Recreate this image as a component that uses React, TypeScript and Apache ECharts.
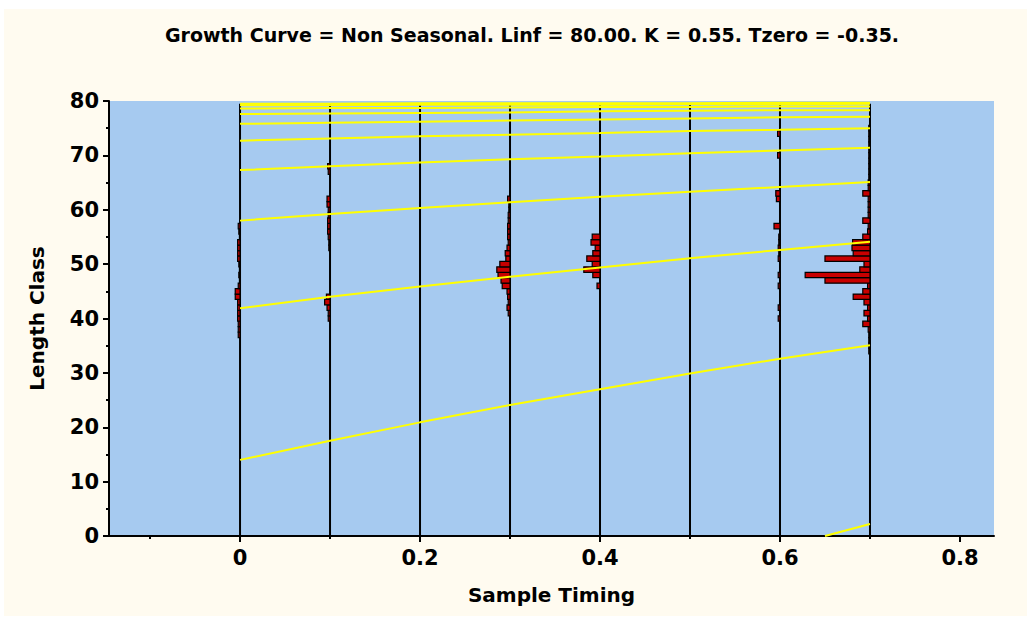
import React, { useEffect, useRef } from 'react';
import * as echarts from 'echarts';

const TITLE = 'Growth Curve = Non Seasonal. Linf = 80.00. K = 0.55. Tzero = -0.35.';
const X_NAME = 'Sample Timing';
const Y_NAME = 'Length Class';

const xMajorTicks = [0, 0.2, 0.4, 0.6, 0.8];
const xMinorTicks = [-0.1, 0.1, 0.3, 0.5, 0.7];
const sampleTimes = [0, 0.1, 0.2, 0.3, 0.4, 0.5, 0.6, 0.7];

// growth curves (length read at each sample time)
const curveTimes = [0, 0.1, 0.2, 0.3, 0.4, 0.5, 0.6, 0.7];
const cohortA = [14.0, 17.5, 20.9, 24.1, 27.0, 29.9, 32.6, 35.1];
const cohortB = [41.9, 44.0, 45.9, 47.7, 49.4, 51.1, 52.6, 54.1];
const cohortC = [58.0, 59.2, 60.3, 61.4, 62.4, 63.3, 64.2, 65.1];
const cohortD = [67.3, 68.0, 68.7, 69.3, 69.8, 70.4, 70.9, 71.4];
const cohortE = [72.7, 73.1, 73.5, 73.8, 74.1, 74.5, 74.7, 75.0];
const cohortF = [75.8, 76.0, 76.2, 76.4, 76.6, 76.8, 77.0, 77.1];
const cohortG = [77.6, 77.7, 77.8, 77.9, 78.1, 78.2, 78.3, 78.3];
const cohortH = [78.6, 78.7, 78.7, 78.8, 78.9, 78.9, 79.0, 79.0];
const cohortI = [79.2, 79.2, 79.3, 79.3, 79.3, 79.4, 79.4, 79.5];
const cohortJ = [79.5, 79.5, 79.6, 79.6, 79.6, 79.6, 79.7, 79.7];
const recruitTimes = [0.65, 0.675, 0.7];
const recruitLengths = [0, 1.1, 2.2];

// histograms per sample: [length class, frequency]
const hist00 = [[37, 0.3], [38, 0.3], [39, 0.3], [40, 0.4], [41, 0.4], [42, 0.4], [43, 0.4], [44, 0.8], [45, 0.8], [46, 0.3], [47, 0.1], [48, 0.2], [49, 0.1], [50, 0.2], [51, 0.4], [52, 0.4], [53, 0.4], [54, 0.4], [55, 0.1], [56, 0.2], [57, 0.3]];
const hist01 = [[40, 0.3], [41, 0.3], [42, 0.5], [43, 0.9], [44, 0.6], [53, 0.2], [54, 0.2], [55, 0.3], [56, 0.4], [57, 0.4], [58, 0.4], [59, 0.3], [60, 0.3], [61, 0.5], [62, 0.5], [67, 0.3], [68, 0.4]];
const hist02: number[][] = [];
const hist03 = [[41, 0.3], [42, 0.5], [43, 0.3], [44, 0.4], [45, 0.5], [46, 1.3], [47, 1.5], [48, 2.0], [49, 2.2], [50, 1.7], [51, 0.7], [52, 0.8], [53, 0.5], [54, 0.3], [55, 0.4], [56, 0.4], [57, 0.4], [58, 0.3], [59, 0.3], [60, 0.2], [61, 0.2], [62, 0.4]];
const hist04 = [[46, 0.5], [48, 1.2], [49, 2.7], [50, 1.3], [51, 2.2], [52, 1.2], [53, 0.8], [54, 1.5], [55, 1.3]];
const hist05: number[][] = [];
const hist06 = [[40, 0.3], [42, 0.3], [46, 0.3], [48, 0.3], [51, 0.3], [52, 0.2], [53, 0.3], [54, 0.2], [55, 0.2], [57, 1.0], [62, 0.6], [63, 0.7], [70, 0.4], [74, 0.4]];
const hist07 = [[34, 0.2], [35, 0.2], [36, 0.2], [37, 0.2], [38, 0.3], [39, 1.2], [40, 0.4], [41, 1.0], [42, 0.4], [43, 1.0], [44, 2.8], [45, 1.2], [46, 0.4], [47, 7.5], [48, 10.8], [49, 1.7], [50, 1.0], [51, 7.5], [52, 2.8], [53, 3.0], [54, 2.9], [55, 1.2], [56, 0.4], [57, 0.3], [58, 1.2], [59, 0.3], [60, 0.3], [61, 0.3], [62, 0.3], [63, 1.2], [64, 0.3], [65, 0.3], [66, 0.2], [67, 0.2], [68, 0.2], [69, 0.2], [70, 0.2], [71, 0.2], [72, 0.2], [73, 0.2], [74, 0.2], [75, 0.2]];

const histograms = [hist00, hist01, hist02, hist03, hist04, hist05, hist06, hist07];

const FREQ_UNIT = 0.00667; // x-axis units per frequency count
const SAMPLE_LINE_TOP = 79.5;

export default function App() {
  const ref = useRef<HTMLDivElement>(null);

  useEffect(() => {
    document.body.style.margin = '0';
    if (!ref.current) return;
    const chart = echarts.init(ref.current, undefined, { renderer: 'svg' });

    const cohorts = [cohortA, cohortB, cohortC, cohortD, cohortE, cohortF, cohortG, cohortH, cohortI, cohortJ];
    const curveSeries: any[] = cohorts.map((c) => ({
      type: 'line',
      data: curveTimes.map((t, i) => [t, c[i]]),
      showSymbol: false,
      symbol: 'none',
      silent: true,
      z: 6,
      lineStyle: { color: '#ffff00', width: 2 },
    }));
    curveSeries.push({
      type: 'line',
      data: recruitTimes.map((t, i) => [t, recruitLengths[i]]),
      showSymbol: false,
      symbol: 'none',
      silent: true,
      z: 6,
      lineStyle: { color: '#ffff00', width: 2 },
    });

    const histData: number[][] = [];
    histograms.forEach((h, si) => {
      h.forEach(([L, f]) => histData.push([sampleTimes[si], L, f]));
    });

    const fontFamily = 'DejaVu Sans';

    chart.setOption({
      animation: false,
      backgroundColor: '#fffbf0',
      title: {
        text: TITLE,
        left: 523,
        top: 11,
        textAlign: 'center',
        textStyle: { fontFamily, fontWeight: 'bold', fontSize: 19, color: '#000' },
      },
      grid: {
        left: 105,
        right: 33,
        top: 92,
        bottom: 80,
        show: true,
        backgroundColor: '#a6caf0',
        borderWidth: 0,
      },
      xAxis: [
        {
          type: 'value',
          min: -0.1456,
          max: 0.8378,
          name: X_NAME,
          nameLocation: 'middle',
          nameGap: 49,
          nameTextStyle: { fontFamily, fontWeight: 'bold', fontSize: 20, color: '#000' },
          axisLine: { show: true, onZero: false, lineStyle: { color: '#000', width: 2 } },
          axisTick: { show: true, customValues: xMajorTicks, length: 6, lineStyle: { color: '#000', width: 2 } },
          axisLabel: {
            customValues: xMajorTicks,
            margin: 11,
            fontFamily,
            fontWeight: 'bold',
            fontSize: 21,
            color: '#000',
            formatter: (v: number) => String(Math.round(v * 10) / 10),
          },
          splitLine: { show: false },
        },
        {
          type: 'value',
          min: -0.1456,
          max: 0.8378,
          position: 'bottom',
          axisLine: { show: false, onZero: false },
          axisTick: { show: true, customValues: xMinorTicks, length: 3, lineStyle: { color: '#000', width: 2 } },
          axisLabel: { show: false },
          splitLine: { show: false },
        },
      ],
      yAxis: {
        type: 'value',
        min: 0,
        max: 80,
        interval: 10,
        name: Y_NAME,
        nameLocation: 'middle',
        nameGap: 62,
        nameTextStyle: { fontFamily, fontWeight: 'bold', fontSize: 20, color: '#000' },
        axisLine: { show: true, onZero: false, lineStyle: { color: '#000', width: 2 } },
        axisTick: { show: true, length: 6, lineStyle: { color: '#000', width: 2 } },
        minorTick: { show: true, splitNumber: 2, length: 3, lineStyle: { color: '#000', width: 2 } },
        axisLabel: { margin: 10, fontFamily, fontWeight: 'bold', fontSize: 21, color: '#000' },
        splitLine: { show: false },
      },
      series: [
        {
          type: 'custom',
          silent: true,
          z: 2,
          data: sampleTimes.map((t) => [t, 0]),
          renderItem: (params: any, api: any) => {
            const t = api.value(0);
            const p0 = api.coord([t, 0]);
            const p1 = api.coord([t, SAMPLE_LINE_TOP]);
            return {
              type: 'line',
              shape: { x1: p0[0], y1: p0[1], x2: p1[0], y2: p1[1] },
              style: { stroke: '#000', lineWidth: 2 },
            };
          },
        },
        {
          type: 'custom',
          silent: true,
          z: 3,
          data: histData,
          renderItem: (params: any, api: any) => {
            const t = api.value(0);
            const L = api.value(1);
            const f = api.value(2);
            const a = api.coord([t - f * FREQ_UNIT, L + 0.5]);
            const b = api.coord([t, L - 0.5]);
            return {
              type: 'rect',
              shape: { x: a[0], y: a[1], width: b[0] - a[0], height: b[1] - a[1] },
              style: { fill: '#c80000', stroke: '#000', lineWidth: 1.2 },
            };
          },
        },
        ...curveSeries,
      ],
    });

    return () => chart.dispose();
  }, []);

  return (
    <div style={{ position: 'relative', width: 1031, height: 622, background: '#ffffff' }}>
      <div ref={ref} style={{ position: 'absolute', left: 4, top: 9, width: 1023, height: 607 }} />
    </div>
  );
}
